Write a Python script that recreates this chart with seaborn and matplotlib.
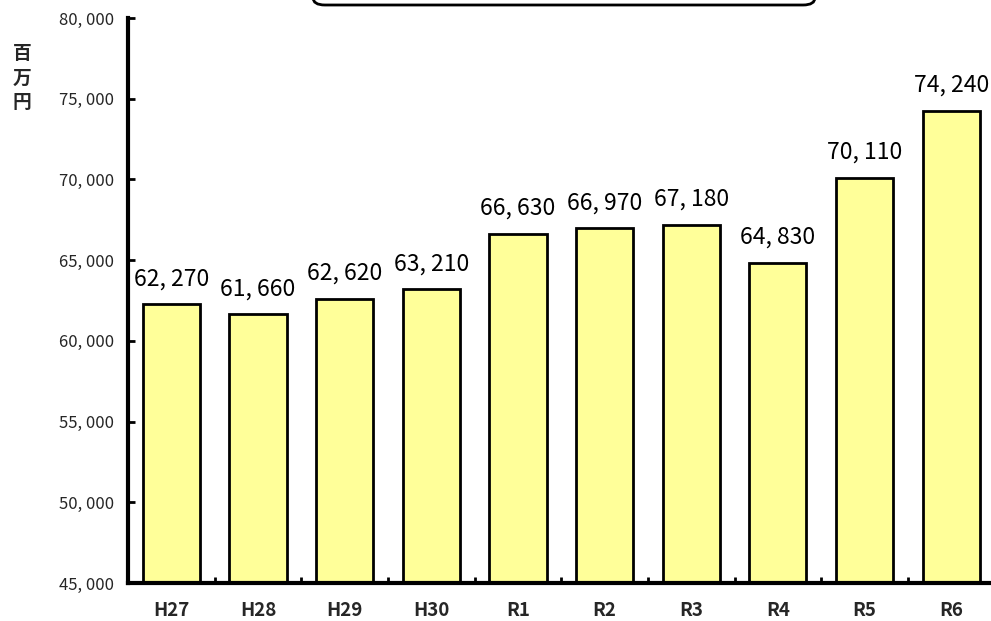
import matplotlib
matplotlib.use("Agg")
import matplotlib.pyplot as plt
from matplotlib.patches import FancyBboxPatch
from matplotlib.ticker import FuncFormatter, MultipleLocator
import seaborn as sns
import pandas as pd

years = ["H27", "H28", "H29", "H30", "R1", "R2", "R3", "R4", "R5", "R6"]
amounts = [62270, 61660, 62620, 63210, 66630, 66970, 67180, 64830, 70110, 74240]
unit_label = "百万円"

sns.set_theme(style="white")
plt.rcParams["font.family"] = ["Noto Sans CJK JP", "DejaVu Sans"]

df = pd.DataFrame({"year": years, "amount": amounts})

W, H = 991, 621
fig = plt.figure(figsize=(W / 100, H / 100), dpi=100)
left, right, bottom, top = 128, 994.5, 583, 18
ax = fig.add_axes([left / W, (H - bottom) / H, (right - left) / W, (bottom - top) / H])

sns.barplot(data=df, x="year", y="amount", ax=ax, color="#FFFF99",
            saturation=1, width=0.66, edgecolor="black", linewidth=2)

ax.set_ylim(45000, 80000)
ax.set_xlim(-0.5, len(years) - 0.5)
ax.yaxis.set_major_locator(MultipleLocator(5000))
ax.yaxis.set_major_formatter(FuncFormatter(lambda v, _: f"{int(v):,}".replace(",", ", ")))

for s in ("top", "right"):
    ax.spines[s].set_visible(False)
for s in ("left", "bottom"):
    ax.spines[s].set_color("black")
    ax.spines[s].set_linewidth(3)

ax.tick_params(axis="y", direction="in", length=5, width=2, color="black",
               labelsize=12, pad=10, left=True)
ax.tick_params(axis="x", bottom=False, labelsize=13.5, pad=7)
for lbl in ax.get_xticklabels():
    lbl.set_fontweight("bold")

# category separators on the baseline
for i in range(1, len(years)):
    ax.plot([i - 0.5, i - 0.5], [45000, 45400], color="black", lw=2,
            solid_capstyle="butt", clip_on=False)

ax.set_xlabel("")
ax.set_ylabel("")

for i, v in enumerate(amounts):
    ax.annotate(f"{v:,}".replace(",", ", "), (i, v), xytext=(0, 10),
                textcoords="offset points", ha="center", va="bottom",
                fontsize=16.5, color="black")

fig.text(22 / W, 1 - 78 / H, "\n".join(unit_label), ha="center", va="center",
         fontsize=13.5, fontweight="bold", linespacing=1.35)

# title frame running off the top edge
box = FancyBboxPatch((313 / W, 1 - 5 / H), 502 / W, 40 / H,
                     boxstyle="round,pad=0,rounding_size=0.012",
                     transform=fig.transFigure, facecolor="white",
                     edgecolor="black", linewidth=2, clip_on=False)
fig.patches.append(box)

fig.savefig("out.png", dpi=100)
